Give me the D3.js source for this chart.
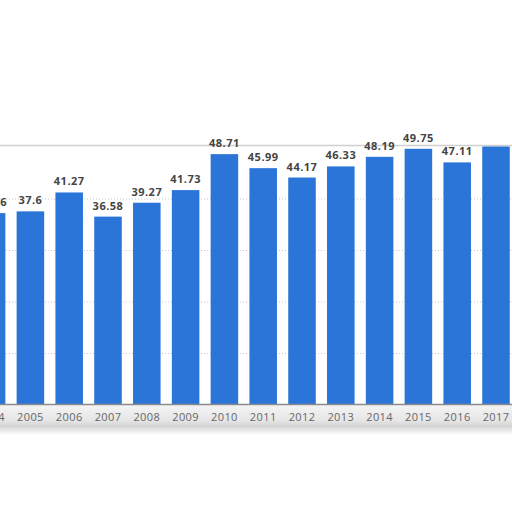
<!DOCTYPE html>
<html>
<head>
<meta charset="utf-8">
<script src="https://cdn.jsdelivr.net/npm/d3@7"></script>
<style>
  body { margin: 0; background: #fff; }
  svg { display: block; }
</style>
</head>
<body>
<svg id="chart" width="512" height="512"></svg>
<script>
// values (2017 has no visible label)
var years = ["2004","2005","2006","2007","2008","2009","2010","2011","2012","2013","2014","2015","2016","2017"];
var values = [37.26, 37.6, 41.27, 36.58, 39.27, 41.73, 48.71, 45.99, 44.17, 46.33, 48.19, 49.75, 47.11, 50.2];
var valueLabels = ["37.26","37.6","41.27","36.58","39.27","41.73","48.71","45.99","44.17","46.33","48.19","49.75","47.11",""];
var gridTicks = [10, 20, 30, 40];

var svg = d3.select("#chart");
var defs = svg.append("defs");

var grad = defs.append("linearGradient").attr("id", "axisShade")
  .attr("x1", 0).attr("y1", 0).attr("x2", 0).attr("y2", 1);
grad.append("stop").attr("offset", "0%").attr("stop-color", "#f4f4f4");
grad.append("stop").attr("offset", "70%").attr("stop-color", "#e6e6e6");
grad.append("stop").attr("offset", "100%").attr("stop-color", "#d2d2d2");

var fade = defs.append("linearGradient").attr("id", "bottomFade")
  .attr("x1", 0).attr("y1", 0).attr("x2", 0).attr("y2", 1);
fade.append("stop").attr("offset", "0%").attr("stop-color", "#d8d8d8");
fade.append("stop").attr("offset", "100%").attr("stop-color", "#ffffff");

var x = d3.scaleBand()
  .domain(years)
  .range([-27.8, 515.4])
  .paddingInner(0.29)
  .paddingOuter(0.145);

var y = d3.scaleLinear()
  .domain([0, 50])
  .range([405, 147.5]);

// panel top edge
svg.append("line")
  .attr("x1", 0).attr("x2", 512)
  .attr("y1", y(50) - 2).attr("y2", y(50) - 2)
  .attr("stroke", "#d0d0d0").attr("stroke-width", 1.5);

// shaded strip behind the year labels
svg.append("rect")
  .attr("x", 0).attr("y", y(0)).attr("width", 512).attr("height", 22)
  .attr("fill", "url(#axisShade)");
svg.append("rect")
  .attr("x", 0).attr("y", y(0) + 22).attr("width", 512).attr("height", 8)
  .attr("fill", "url(#bottomFade)");

// dotted grid
svg.selectAll(".grid")
  .data(gridTicks)
  .enter().append("line")
  .attr("class", "grid")
  .attr("x1", 0).attr("x2", 512)
  .attr("y1", function(d) { return y(d); })
  .attr("y2", function(d) { return y(d); })
  .attr("stroke", "#c8c8c8")
  .attr("stroke-width", 1)
  .attr("stroke-dasharray", "1,2");

// bars
svg.selectAll(".bar")
  .data(values)
  .enter().append("rect")
  .attr("class", "bar")
  .attr("x", function(d, i) { return x(years[i]); })
  .attr("width", x.bandwidth())
  .attr("y", function(d) { return y(d); })
  .attr("height", function(d) { return y(0) - y(d); })
  .attr("fill", "#2c75d8");

// value labels
svg.selectAll(".val")
  .data(values)
  .enter().append("text")
  .attr("class", "val")
  .attr("x", function(d, i) { return x(years[i]) + x.bandwidth() / 2; })
  .attr("y", function(d) { return y(d) - 7; })
  .attr("text-anchor", "middle")
  .attr("font-family", "Open Sans, sans-serif")
  .attr("font-weight", "bold")
  .attr("font-size", 11)
  .attr("letter-spacing", 0.5)
  .attr("fill", "#444")
  .text(function(d, i) { return valueLabels[i]; });

// x axis
var xAxis = d3.axisBottom(x).tickSize(0).tickPadding(9);
var gx = svg.append("g")
  .attr("transform", "translate(0," + (y(0) - 1) + ")")
  .call(xAxis);
gx.select(".domain").attr("stroke", "#8a8a8a").attr("stroke-width", 1.5);
gx.selectAll("text")
  .attr("font-family", "Open Sans, sans-serif")
  .attr("font-size", 11)
  .attr("letter-spacing", 0.4)
  .attr("fill", "#666");
</script>
</body>
</html>
